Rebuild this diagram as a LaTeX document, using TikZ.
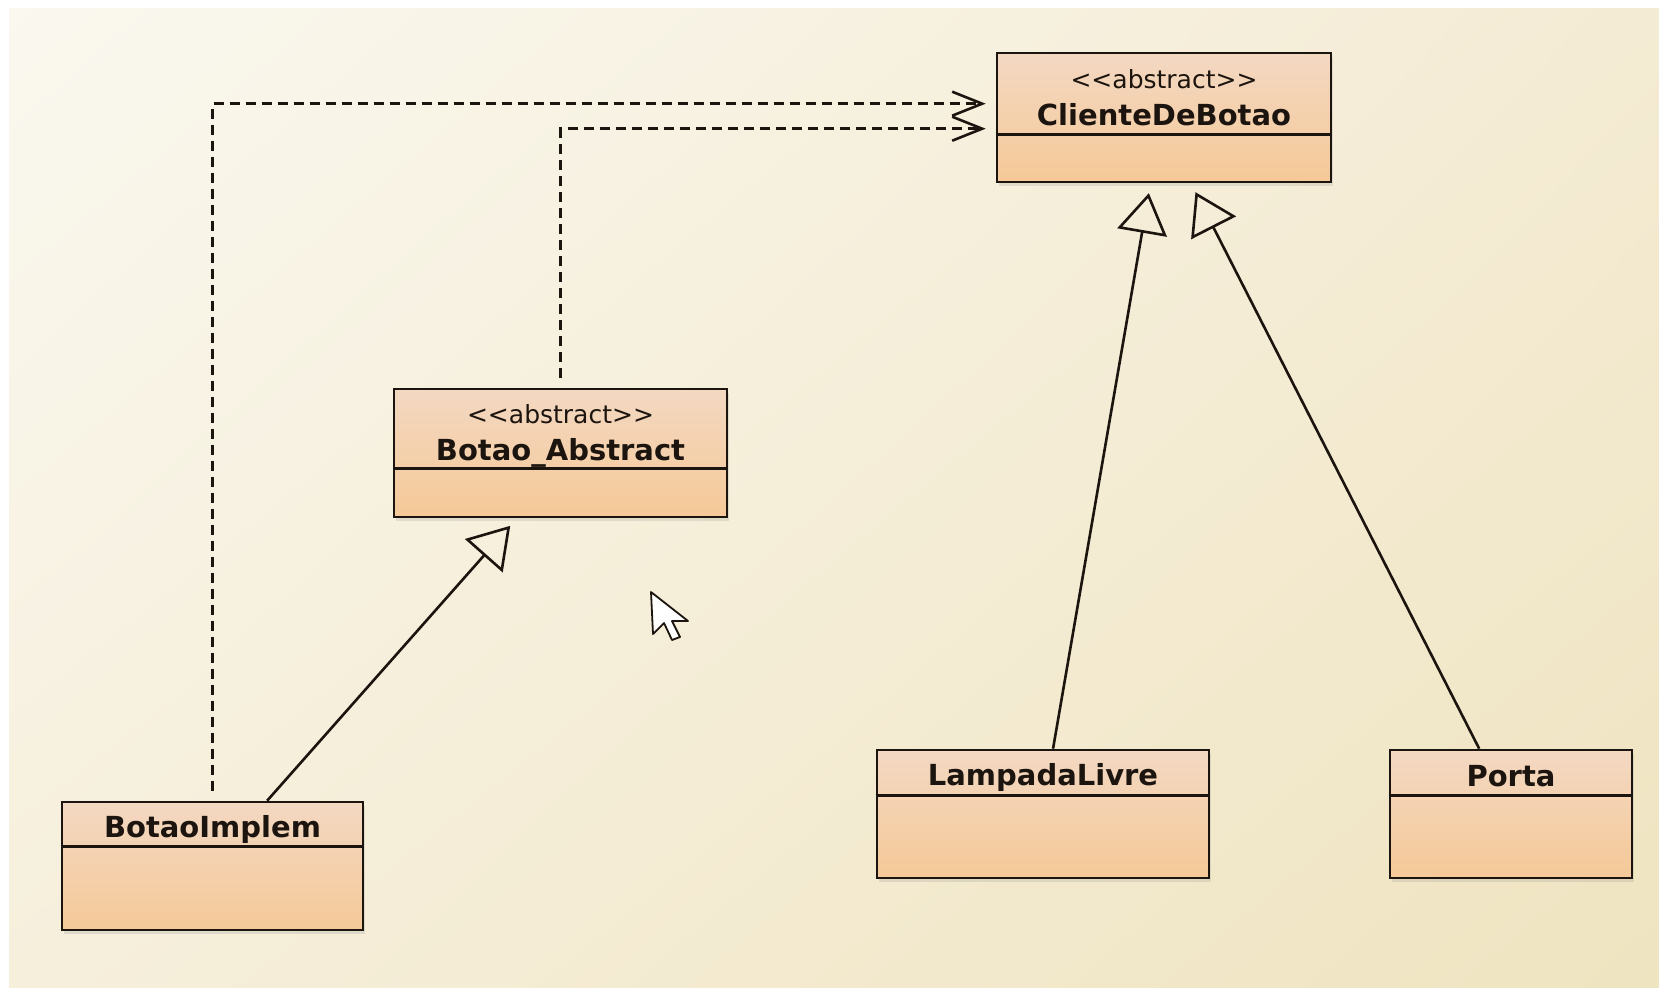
\documentclass[tikz,border=0pt]{standalone}
\usepackage{fontspec}
\setmainfont{DejaVu Sans}
\usetikzlibrary{arrows.meta,calc,shadows,shadings}

\definecolor{bgTL}{RGB}{250,248,239}
\definecolor{bgTR}{RGB}{244,235,212}
\definecolor{bgBL}{RGB}{246,239,220}
\definecolor{bgBR}{RGB}{239,228,192}
\definecolor{boxTop}{RGB}{243,216,194}
\definecolor{boxBot}{RGB}{245,201,152}
\definecolor{ink}{RGB}{28,20,14}

\newcommand{\stereotype}[1]{<\kern0pt<#1>\kern0pt>}

\tikzset{
  classbox/.style={draw=ink, line width=2.6pt, rectangle, inner sep=0pt,
    top color=boxTop, bottom color=boxBot,
    drop shadow={opacity=0.18, shadow xshift=2pt, shadow yshift=-4pt}},
  divider/.style={draw=ink, line width=2.6pt},
  cname/.style={font=\fontsize{29}{30}\selectfont\bfseries, text=ink, inner sep=0pt},
  stereo/.style={font=\fontsize{25}{26}\selectfont, text=ink, inner sep=0pt},
  dep/.style={draw=ink, line width=2.6pt, dash pattern=on 10pt off 6pt,
    shorten <=10pt, shorten >=10pt,
    -{Straight Barb[length=30pt, width=24pt, line width=2.6pt]}},
  gen/.style={draw=ink, line width=2.6pt, shorten >=10pt,
    -{Triangle[open, length=40pt, width=50pt, line width=2.6pt]}},
}

\begin{document}
\begin{tikzpicture}[x=1pt, y=-1pt]
\useasboundingbox (0,0) rectangle (1659,989);
\fill[white] (0,0) rectangle (1659,989);
\shade[upper left=bgTL, upper right=bgTR, lower left=bgBL, lower right=bgBR]
  (9,8) rectangle (1659,987);

% classes
\node[classbox, minimum width=334pt, minimum height=129pt] (client) at (1164,117.5) {};
\draw[divider] ($(client.north west)+(0,83)$) -- ($(client.north east)+(0,83)$);
\node[stereo] (clientst) at ($(client.north)+(0,27)$) {\stereotype{abstract}};
\node[cname] (clientnm) at ($(client.north)+(0,63)$) {ClienteDeBotao};

\node[classbox, minimum width=333pt, minimum height=128pt] (abstract) at (560.5,453) {};
\draw[divider] ($(abstract.north west)+(0,81)$) -- ($(abstract.north east)+(0,81)$);
\node[stereo] (abstractst) at ($(abstract.north)+(0,26)$) {\stereotype{abstract}};
\node[cname] (abstractnm) at ($(abstract.north)+(0,65)$) {Botao\_Abstract};

\node[classbox, minimum width=301pt, minimum height=128pt] (implem) at (212.5,866) {};
\draw[divider] ($(implem.north west)+(0,46)$) -- ($(implem.north east)+(0,46)$);
\node[cname] (implemnm) at ($(implem.north)+(0,29)$) {BotaoImplem};

\node[classbox, minimum width=332pt, minimum height=128pt] (lamp) at (1043,814) {};
\draw[divider] ($(lamp.north west)+(0,47)$) -- ($(lamp.north east)+(0,47)$);
\node[cname] (lampnm) at ($(lamp.north)+(0,29)$) {LampadaLivre};

\node[classbox, minimum width=242pt, minimum height=128pt] (porta) at (1511,814) {};
\draw[divider] ($(porta.north west)+(0,47)$) -- ($(porta.north east)+(0,47)$);
\node[cname] (portanm) at ($(porta.north)+(0,27)$) {Porta};

% dependencies
\draw[dep] (implem.north) |- ($(client.north west)+(0,52)$);
\draw[dep] (abstract.north) |- ($(client.north west)+(0,77)$);

% generalizations
\draw[gen] ($(implem.north west)!0.68!(implem.north east)$) -- ($(abstract.south west)!0.37!(abstract.south east)$);
\draw[gen] ($(lamp.north west)!0.53!(lamp.north east)$) -- ($(client.south west)!0.46!(client.south east)$);
\draw[gen] ($(porta.north west)!0.37!(porta.north east)$) -- ($(client.south west)!0.58!(client.south east)$);

% mouse pointer
\draw[fill=white, draw=ink, line width=1.8pt, line join=round]
  (651,592) -- (653,634) -- (664,623) -- (672,640) -- (680,637) -- (672,621) -- (688,621) -- cycle;
\end{tikzpicture}
\end{document}
